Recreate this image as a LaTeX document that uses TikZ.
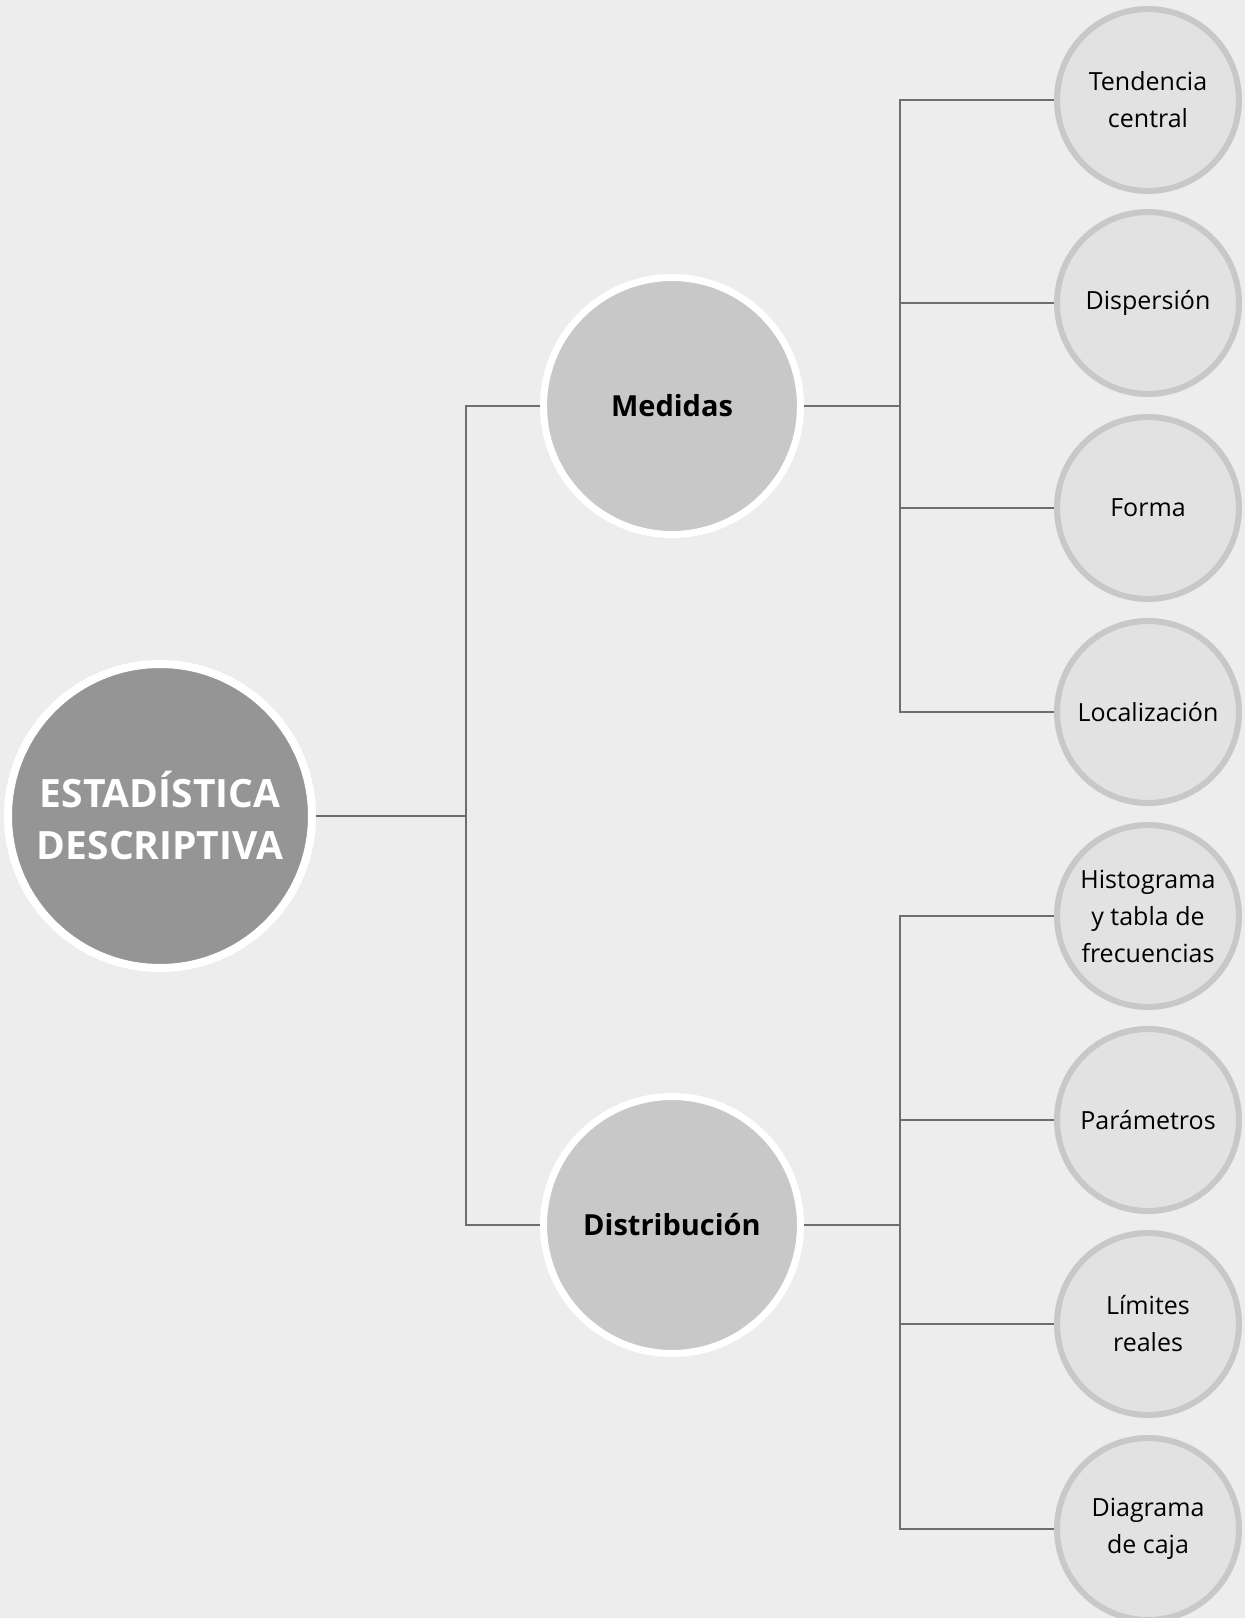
\documentclass[tikz,border=0pt]{standalone}
\usepackage{fontspec}
\setmainfont{Open Sans}
\definecolor{bgc}{HTML}{EDEDED}
\definecolor{maincol}{HTML}{959595}
\definecolor{midcol}{HTML}{C8C8C8}
\definecolor{leafcol}{HTML}{E2E2E2}
\definecolor{linecol}{HTML}{6E6E6E}
\begin{document}
\begin{tikzpicture}[x=1pt,y=-1pt,
  rootnode/.style={circle,inner sep=0pt,minimum size=304pt,fill=maincol,draw=white,line width=8pt,
    text=white,align=center,font=\fontsize{39}{52}\selectfont\bfseries},
  midnode/.style={circle,inner sep=0pt,minimum size=257pt,fill=midcol,draw=white,line width=7pt,
    text=black,align=center,font=\fontsize{29}{36}\selectfont\bfseries},
  leafnode/.style={circle,inner sep=0pt,minimum size=182pt,fill=leafcol,draw=midcol,line width=6pt,
    text=black,align=center,font=\fontsize{25}{37}\selectfont},
  conn/.style={draw=linecol,line width=2pt}]
\fill[bgc] (0,0) rectangle (1245,1618);
\useasboundingbox (0,0) rectangle (1245,1618);

\node[rootnode] (root) at (160,816) {ESTADÍSTICA\\DESCRIPTIVA};
\node[midnode] (med) at (672,406) {Medidas};
\node[midnode] (dist) at (672,1225) {Distribución};

\node[leafnode] (l1) at (1148,100) {Tendencia\\central};
\node[leafnode] (l2) at (1148,303) {Dispersión};
\node[leafnode] (l3) at (1148,508) {Forma};
\node[leafnode] (l4) at (1148,712) {Localización};
\node[leafnode] (l5) at (1148,916) {Histograma\\y tabla de\\frecuencias};
\node[leafnode] (l6) at (1148,1120) {Parámetros};
\node[leafnode] (l7) at (1148,1324) {Límites\\reales};
\node[leafnode] (l8) at (1148,1529) {Diagrama\\de caja};

\coordinate (j1) at (466,816);
\coordinate (j2) at (900,406);
\coordinate (j3) at (900,1225);

\draw[conn] (root.east) -- (j1);
\draw[conn] (med.west) -| (j1) |- (dist.west);
\draw[conn] (med.east) -- (j2);
\draw[conn] (dist.east) -- (j3);
\foreach \n in {l1,l2,l3,l4} \draw[conn] (j2) |- (\n.west);
\foreach \n in {l5,l6,l7,l8} \draw[conn] (j3) |- (\n.west);
\end{tikzpicture}
\end{document}
